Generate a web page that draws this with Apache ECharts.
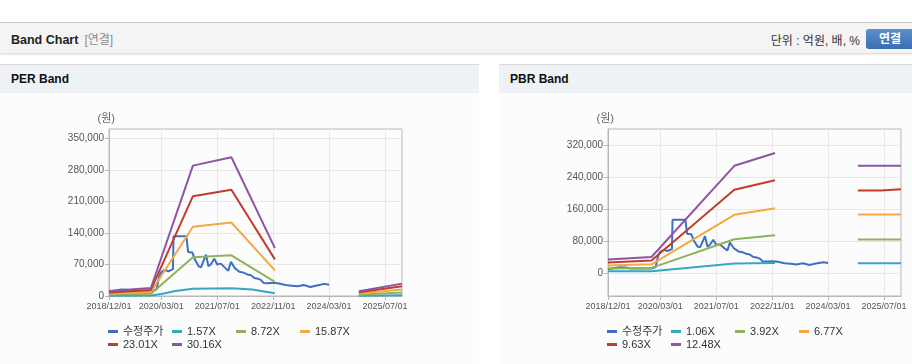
<!DOCTYPE html>
<html>
<head>
<meta charset="utf-8">
<script src="https://cdn.jsdelivr.net/npm/echarts@6/dist/echarts.min.js"></script>
<style>
body{margin:0;background:#fff;font-family:"Liberation Sans","Noto Sans CJK KR",sans-serif;width:912px;height:364px;overflow:hidden;position:relative;}
#top{position:absolute;left:0;top:22px;width:912px;height:30px;background:#f4f4f4;border-top:1px solid #c6c6c6;border-bottom:1px solid #dedede;box-shadow:0 1px 2px rgba(0,0,0,0.08);}
#top .ttl{position:absolute;left:11px;top:7px;font-size:12.5px;font-weight:bold;color:#222;}
#top .ttl span{font-weight:normal;color:#8a8a8a;margin-left:6px;font-size:12px;}
#top .unit{position:absolute;right:52px;top:8px;font-size:12px;color:#333;}
#top .btn{position:absolute;left:866px;top:6px;width:50px;height:20px;border-radius:3px;background:linear-gradient(#5a8fd0,#3a6db2);color:#fff;font-size:12px;font-weight:bold;line-height:20px;text-indent:13px;}
.panel{position:absolute;top:64px;height:300px;background:#fcfcfc;border-top:1px solid #d8d8d8;}
.panel .hd{height:28px;background:#eef2f7;font-size:12px;font-weight:bold;color:#111;line-height:28px;padding-left:11px;}
.chart{position:absolute;top:29px;left:0;height:271px;}
</style>
</head>
<body>
<div id="top"><div class="ttl">Band Chart<span>[연결]</span></div><div class="unit">단위 : 억원, 배, %</div><div class="btn">연결</div></div>
<div class="panel" style="left:0;width:479px;"><div class="hd">PER Band</div><div class="chart" id="per" style="width:479px;"></div></div>
<div class="panel" style="left:499px;width:413px;"><div class="hd">PBR Band</div><div class="chart" id="pbr" style="width:413px;"></div></div>
<script>
var color = ['#3f6fc2','#33a8c3','#8fb35b','#f2a941','#c23b2f','#8f54a2'];
var xTicks = ['2018-12-01','2020-03-01','2021-07-01','2022-11-01','2024-03-01','2025-07-01'];
var xStart = '2018-12-01', xEnd = '2025-11-26';
var perTicks = [0,70000,140000,210000,280000,350000];
var pbrTicks = [0,80000,160000,240000,320000];
var perNames = ['수정주가','1.57X','8.72X','15.87X','23.01X','30.16X'];
var pbrNames = ['수정주가','1.06X','3.92X','6.77X','9.63X','12.48X'];

// 수정주가
var price = [
  ['2018-12-01',9500],['2019-01-01',11000],['2019-02-01',12500],['2019-03-15',14500],['2019-05-01',14000],
  ['2019-06-15',11500],['2019-08-01',11000],['2019-09-15',12000],['2019-11-01',11500],['2019-12-15',11000],
  ['2020-01-20',15000],['2020-02-10',42000],['2020-02-25',52000],['2020-03-10',48000],['2020-04-01',58000],
  ['2020-05-01',55000],['2020-06-10',60000],['2020-06-15',133000],['2020-10-05',133000],['2020-10-20',98000],
  ['2020-11-25',97000],['2020-12-20',80000],['2021-01-20',66000],['2021-02-10',64000],['2021-03-25',92000],
  ['2021-04-15',66000],['2021-05-05',70000],['2021-06-05',83000],['2021-07-01',70000],['2021-08-01',72000],
  ['2021-09-10',62000],['2021-10-05',56000],['2021-10-28',76000],['2021-12-01',62000],['2022-01-10',54000],
  ['2022-02-15',52000],['2022-03-20',48000],['2022-04-20',46000],['2022-05-20',40000],['2022-06-20',38500],
  ['2022-07-15',36000],['2022-08-10',29000],['2022-09-15',28500],['2022-11-01',29500],['2022-12-20',28000],
  ['2023-02-15',24500],['2023-04-10',23000],['2023-06-01',21500],['2023-07-25',24500],['2023-09-20',20000],
  ['2023-11-15',23500],['2024-01-20',27000],['2024-03-01',25000]
];

// PER band
var per157 = [['2018-12-01',500],['2019-12-01',1200],['2020-03-01',4500],['2020-07-01',11000],['2020-12-01',16300],['2021-11-01',17500],['2022-05-01',14500],['2022-11-15',6000],['2023-06-01',null],['2024-11-15',500],['2025-11-26',1400]];
var per872 = [['2018-12-01',3200],['2019-12-01',5000],['2020-12-01',86000],['2021-11-01',90500],['2022-11-15',31500],['2023-06-01',null],['2024-11-15',3000],['2025-11-26',8000]];
var per1587 = [['2018-12-01',5500],['2019-12-01',9000],['2020-12-01',154000],['2021-11-01',163500],['2022-11-15',57000],['2023-06-01',null],['2024-11-15',5500],['2025-11-26',14500]];
var per2301 = [['2018-12-01',8000],['2019-12-01',13500],['2020-12-01',222000],['2021-11-01',236500],['2022-11-15',81500],['2023-06-01',null],['2024-11-15',8200],['2025-11-26',21500]];
var per3016 = [['2018-12-01',11000],['2019-12-01',17800],['2020-12-01',290000],['2021-11-01',308600],['2022-11-15',106600],['2023-06-01',null],['2024-11-15',10400],['2025-11-26',27500]];

// PBR band
var pbr106 = [['2018-12-01',4500],['2019-12-15',4200],['2021-12-05',23500],['2022-11-25',25000],['2023-06-01',null],['2024-11-15',24200],['2025-11-26',24200]];
var pbr392 = [['2018-12-01',11500],['2019-12-15',12800],['2021-12-05',84500],['2022-11-25',94500],['2023-06-01',null],['2024-11-15',84000],['2025-11-26',84000]];
var pbr677 = [['2018-12-01',19000],['2019-12-15',21700],['2021-12-05',145500],['2022-11-25',162000],['2023-06-01',null],['2024-11-15',146000],['2025-11-26',146000]];
var pbr963 = [['2018-12-01',26500],['2019-12-15',31000],['2021-12-05',208000],['2022-11-25',232000],['2023-06-01',null],['2024-11-15',206500],['2025-06-05',206500],['2025-06-10',209500],['2025-11-26',209500]];
var pbr1248 = [['2018-12-01',34000],['2019-12-15',40000],['2021-12-05',268000],['2022-11-25',300000],['2023-06-01',null],['2024-11-15',268000],['2025-11-26',268000]];

function t(s){var p=s.split('-');return new Date(+p[0],p[1]-1,+p[2]).getTime();}
function pts(a){return a.map(function(d){return [t(d[0]), d[1]===null?'-':d[1]];});}
function pad(n){return n<10?'0'+n:''+n;}

function bandChart(div, names, lines, yMin, yMax, yTicks){
    var myChart = echarts.init(div);
    var series = names.map(function(n,i){
        return {
            name:n, type:'line', data:pts(lines[i]), showSymbol:false, symbol:'none',
            lineStyle:{width:2,color:color[i]}, itemStyle:{color:color[i]}
        };
    });
    var xVals = xTicks.map(t);
    var option = {
        animation:false,
        textStyle:{fontFamily:'"Liberation Sans","Noto Sans CJK KR",sans-serif'},
        grid:{left:109, top:35, width:293, height:167, show:true, borderColor:'#b8b8b8', borderWidth:1},
        graphic:[{type:'text', x:115, y:25, style:{text:'(원)', align:'right', verticalAlign:'middle', fill:'#666', font:'11px "Liberation Sans","Noto Sans CJK KR",sans-serif'}}],
        legend:{
            left:108, top:232, width:262, padding:0, icon:'rect', itemWidth:10, itemHeight:3, itemGap:2,
            textStyle:{fontSize:11, color:'#333', width:47, lineHeight:11, padding:0},
            data:names
        },
        xAxis:{
            type:'value', min:t(xStart), max:t(xEnd),
            axisLine:{onZero:false, lineStyle:{color:'#b8b8b8'}},
            axisTick:{show:true, length:4, customValues:xVals, lineStyle:{color:'#b8b8b8'}},
            axisLabel:{customValues:xVals, fontSize:9, color:'#555', margin:6,
                formatter:function(v){var d=new Date(v);return d.getFullYear()+'/'+pad(d.getMonth()+1)+'/'+pad(d.getDate());}},
            splitLine:{show:true, lineStyle:{color:'#e8e8e8'}}
        },
        yAxis:{
            type:'value', min:yMin, max:yMax,
            axisLine:{show:true, lineStyle:{color:'#b8b8b8'}},
            axisTick:{show:true, length:4, customValues:yTicks, lineStyle:{color:'#b8b8b8'}},
            axisLabel:{customValues:yTicks, fontSize:10, color:'#555', margin:5,
                formatter:function(v){return v.toLocaleString('en-US');}},
            splitLine:{show:true, lineStyle:{color:'#e8e8e8'}}
        },
        series:series
    };
    myChart.setOption(option, true);
    return myChart;
}

bandChart(document.getElementById('per'), perNames, [price, per157, per872, per1587, per2301, per3016], 0, 371500, perTicks);
bandChart(document.getElementById('pbr'), pbrNames, [price, pbr106, pbr392, pbr677, pbr963, pbr1248], -57500, 360000, pbrTicks);
</script>
</body>
</html>
